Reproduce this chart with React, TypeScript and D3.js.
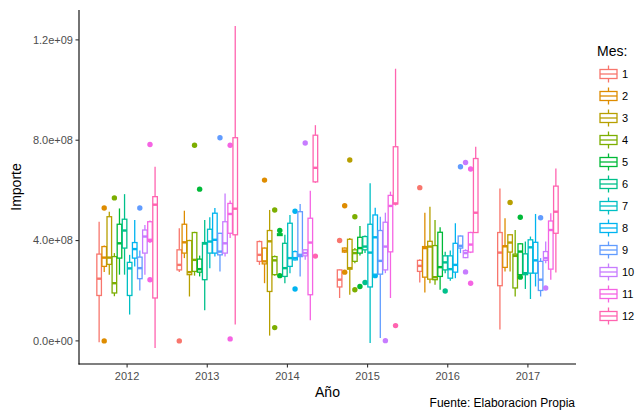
import React, { useEffect } from 'react';
import * as d3 from 'd3';

// Importe por año y mes, en unidades de 1e8: [bigote inf, Q1, mediana, Q3, bigote sup]
type Stat = [number, number, number, number, number];

const years = ['2012', '2013', '2014', '2015', '2016', '2017'];
const months = ['1', '2', '3', '4', '5', '6', '7', '8', '9', '10', '11', '12'];
const monthColors = [
  '#F8766D', '#DE8C00', '#B79F00', '#7CAE00', '#00BA38', '#00C08B',
  '#00BFC4', '#00B4F0', '#619CFF', '#C77CFF', '#F564E3', '#FF64B0',
];

const stats2012: Stat[] = [
  [-0.05, 1.81, 2.48, 3.46, 4.75], [2.75, 2.97, 3.32, 3.76, 3.8], [2.64, 3.05, 3.32, 4.95, 5.15],
  [1.78, 1.91, 2.3, 3.36, 3.5], [2.64, 3.3, 3.89, 4.65, 5.28], [2.64, 3.7, 4.4, 4.85, 5.85],
  [1.05, 1.81, 2.89, 3.13, 3.43], [2.97, 3.3, 3.66, 3.92, 4.82], [2.01, 2.48, 2.9, 3.34, 3.6],
  [2.64, 3.5, 4.16, 4.42, 4.62], [3.9, 3.96, 4.03, 4.75, 4.8], [-0.28, 1.71, 5.43, 5.75, 6.94],
];
const stats2013: Stat[] = [
  [2.75, 2.83, 3.03, 3.63, 4.49], [3.3, 3.5, 3.93, 4.65, 5.19], [1.77, 2.64, 2.74, 4.0, 4.03],
  [2.6, 2.77, 3.23, 4.32, 4.35], [2.57, 2.74, 2.86, 3.26, 3.4], [1.22, 2.44, 3.88, 3.92, 4.82],
  [2.9, 3.5, 3.96, 4.45, 4.93], [3.36, 3.5, 4.03, 5.09, 5.3], [2.77, 3.43, 3.56, 4.29, 4.3],
  [3.36, 3.5, 3.89, 4.75, 5.88], [4.1, 4.29, 5.06, 5.48, 5.6], [0.65, 4.23, 5.27, 8.1, 12.55],
];
const stats2014: Stat[] = [
  [3.03, 3.17, 3.43, 3.96, 4.0], [2.3, 3.07, 3.17, 3.7, 3.72], [0.21, 1.97, 3.97, 4.4, 5.22],
  [2.6, 2.64, 3.21, 3.36, 3.4], [4.18, 4.2, 4.23, 4.27, 4.3], [2.3, 2.57, 2.9, 3.89, 4.23],
  [2.7, 2.97, 3.3, 4.69, 5.02], [3.2, 3.23, 3.3, 3.56, 3.6], [2.57, 3.36, 3.43, 5.15, 5.46],
  [3.23, 3.39, 3.5, 3.63, 3.65], [0.82, 1.84, 3.92, 4.89, 5.99], [6.3, 6.34, 6.9, 8.2, 8.6],
];
const stats2015: Stat[] = [
  [1.71, 2.15, 2.44, 2.83, 2.85], [3.5, 3.54, 3.6, 3.7, 3.72], [1.84, 2.86, 2.9, 4.05, 4.1],
  [3.1, 3.17, 3.5, 3.63, 3.7], [3.4, 3.5, 3.7, 4.13, 4.58], [3.5, 3.63, 3.76, 4.16, 4.2],
  [-0.08, 2.15, 3.52, 4.65, 6.28], [2.66, 2.66, 4.13, 5.02, 5.31], [0.12, 2.66, 3.19, 4.4, 4.95],
  [2.7, 2.83, 3.76, 4.73, 5.11], [1.71, 3.55, 5.38, 5.8, 5.95], [5.4, 5.46, 5.48, 7.74, 10.85],
];
const stats2016: Stat[] = [
  [2.33, 2.77, 2.99, 3.21, 3.25], [1.93, 2.54, 3.7, 3.76, 5.11], [2.3, 2.46, 3.76, 3.97, 5.35],
  [2.24, 2.44, 2.54, 3.8, 4.82], [2.04, 2.57, 2.94, 4.33, 4.53], [2.7, 2.83, 3.13, 3.39, 3.55],
  [2.4, 2.5, 2.86, 3.39, 3.6], [2.5, 2.74, 3.03, 3.89, 4.69], [3.5, 3.7, 3.79, 4.18, 4.2],
  [3.3, 3.32, 3.5, 3.6, 3.65], [3.5, 3.54, 3.84, 4.32, 4.35], [4.3, 4.32, 5.11, 7.27, 7.74],
];
const stats2017: Stat[] = [
  [0.45, 2.2, 3.52, 4.32, 6.08], [2.77, 2.93, 3.77, 3.79, 4.89], [2.77, 3.54, 3.92, 4.23, 4.25],
  [1.77, 2.11, 3.39, 3.46, 4.42], [2.6, 2.64, 3.56, 3.87, 3.9], [2.07, 2.64, 2.7, 3.47, 3.96],
  [1.67, 2.7, 3.73, 4.03, 4.16], [2.17, 2.7, 3.21, 3.93, 5.06], [1.77, 2.01, 2.44, 3.17, 3.3],
  [3.1, 3.21, 3.3, 3.56, 3.96], [2.44, 2.86, 4.42, 4.78, 5.09], [2.73, 4.29, 5.15, 6.17, 6.87],
];
const statsByYear = [stats2012, stats2013, stats2014, stats2015, stats2016, stats2017];

// [año, mes, importe (1e8)]
const outliers: [string, string, number][] = [
  ['2012', '2', 5.3], ['2012', '2', 0.0], ['2012', '4', 5.7], ['2012', '9', 5.3],
  ['2012', '11', 7.83], ['2012', '11', 2.44],
  ['2013', '1', 0.0], ['2013', '4', 7.8], ['2013', '5', 6.05], ['2013', '9', 8.1],
  ['2013', '11', 7.8], ['2013', '11', 0.08],
  ['2014', '2', 6.41], ['2014', '4', 5.22], ['2014', '4', 0.53], ['2014', '5', 4.4],
  ['2014', '5', 2.6], ['2014', '8', 5.17], ['2014', '8', 2.07], ['2014', '10', 7.89],
  ['2014', '12', 3.38],
  ['2015', '1', 4.0], ['2015', '2', 5.39], ['2015', '2', 2.74], ['2015', '3', 7.21],
  ['2015', '4', 4.95], ['2015', '4', 2.04], ['2015', '5', 2.17], ['2015', '6', 2.33],
  ['2015', '8', 2.6], ['2015', '10', 0.01], ['2015', '12', 0.61],
  ['2016', '1', 6.11], ['2016', '6', 1.99], ['2016', '9', 6.94], ['2016', '10', 7.11],
  ['2016', '10', 2.75], ['2016', '11', 6.85], ['2016', '11', 2.3],
  ['2017', '3', 5.52], ['2017', '5', 4.93], ['2017', '5', 2.54], ['2017', '9', 4.91],
  ['2017', '10', 2.11],
];

const yTicks = [0, 4e8, 8e8, 1.2e9];

const W = 635;
const H = 416;
const panel = { left: 79, right: 576, top: 10, bottom: 364 };
const font = '"Liberation Sans", Arial, Helvetica, sans-serif';
const lw = 1.3;

// 4e+08 -> "4.0e+08" como en R
const sci = (v: number) => {
  const [m, e] = v.toExponential(1).split('e');
  return `${m}e${e[0]}${e.slice(1).padStart(2, '0')}`;
};

export default function App() {
  useEffect(() => {
    document.body.style.margin = '0';
  }, []);

  const allVals = [
    ...statsByYear.flat(2),
    ...outliers.map((o) => o[2]),
  ].map((v) => v * 1e8);
  const [lo, hi] = d3.extent(allVals) as [number, number];
  const pad = (hi - lo) * 0.05;

  const y = d3.scaleLinear().domain([lo - pad, hi + pad]).range([panel.bottom, panel.top]);
  const x = d3.scalePoint<string>().domain(years).range([panel.left, panel.right]).padding(0.6);
  const dodge = x.step() * 0.755;
  const xm = d3.scaleBand<string>().domain(months).range([-dodge / 2, dodge / 2]).paddingInner(0.1);
  const bw = xm.bandwidth();

  const legendTop = 63;
  const keyH = 22;

  return (
    <svg width={W} height={H} style={{ display: 'block', background: '#fff' }} fontFamily={font}>
      {/* cajas */}
      {years.map((yr, yi) =>
        statsByYear[yi].map((s, mi) => {
          const m = months[mi];
          const cx = (x(yr) as number) + (xm(m) as number) + bw / 2;
          const col = monthColors[mi];
          const pts = outliers.filter((o) => o[0] === yr && o[1] === m);
          return (
            <g key={`${yr}-${m}`}>
              {pts.map((o, k) => (
                <circle key={k} cx={cx} cy={y(o[2] * 1e8)} r={2.7} fill={col} />
              ))}
              <line x1={cx} x2={cx} y1={y(s[4] * 1e8)} y2={y(s[3] * 1e8)} stroke={col} strokeWidth={lw} />
              <line x1={cx} x2={cx} y1={y(s[1] * 1e8)} y2={y(s[0] * 1e8)} stroke={col} strokeWidth={lw} />
              <rect
                x={cx - bw / 2}
                width={bw}
                y={y(s[3] * 1e8)}
                height={Math.max(0.5, y(s[1] * 1e8) - y(s[3] * 1e8))}
                fill="#fff"
                stroke={col}
                strokeWidth={lw}
              />
              <line
                x1={cx - bw / 2}
                x2={cx + bw / 2}
                y1={y(s[2] * 1e8)}
                y2={y(s[2] * 1e8)}
                stroke={col}
                strokeWidth={2.4}
              />
            </g>
          );
        })
      )}

      {/* ejes */}
      <line x1={panel.left} x2={panel.left} y1={panel.top} y2={panel.bottom + 0.5} stroke="#000" strokeWidth={1.1} />
      <line x1={panel.left - 0.5} x2={panel.right} y1={panel.bottom} y2={panel.bottom} stroke="#000" strokeWidth={1.1} />
      {yTicks.map((t) => (
        <g key={t}>
          <line x1={panel.left - 3.5} x2={panel.left} y1={y(t)} y2={y(t)} stroke="#333" strokeWidth={1.1} />
          <text x={panel.left - 6} y={y(t)} dy="0.35em" textAnchor="end" fontSize={11} fill="#4D4D4D">
            {sci(t)}
          </text>
        </g>
      ))}
      {years.map((yr) => (
        <g key={yr}>
          <line x1={x(yr)} x2={x(yr)} y1={panel.bottom} y2={panel.bottom + 3.5} stroke="#333" strokeWidth={1.1} />
          <text x={x(yr)} y={380} textAnchor="middle" fontSize={11} fill="#4D4D4D">
            {yr}
          </text>
        </g>
      ))}
      <text x={(panel.left + panel.right) / 2} y={397} textAnchor="middle" fontSize={14} fill="#000">
        Año
      </text>
      <text
        transform={`translate(21,${(panel.top + panel.bottom) / 2}) rotate(-90)`}
        textAnchor="middle"
        fontSize={14}
        fill="#000"
      >
        Importe
      </text>
      <text x={575} y={407} textAnchor="end" fontSize={12} fill="#000">
        Fuente: Elaboracion Propia
      </text>

      {/* leyenda */}
      <text x={597} y={56} fontSize={14} fill="#000">
        Mes:
      </text>
      {months.map((m, i) => {
        const cy = legendTop + keyH * i + keyH / 2;
        const cx = 608.5;
        const col = monthColors[i];
        return (
          <g key={m}>
            <line x1={cx} x2={cx} y1={cy - 8.5} y2={cy + 8.5} stroke={col} strokeWidth={lw} />
            <rect x={cx - 8.5} y={cy - 4.5} width={17} height={9} fill="#fff" stroke={col} strokeWidth={lw} />
            <line x1={cx - 8.5} x2={cx + 8.5} y1={cy} y2={cy} stroke={col} strokeWidth={lw} />
            <text x={622} y={cy} dy="0.35em" fontSize={11} fill="#000">
              {m}
            </text>
          </g>
        );
      })}
    </svg>
  );
}
